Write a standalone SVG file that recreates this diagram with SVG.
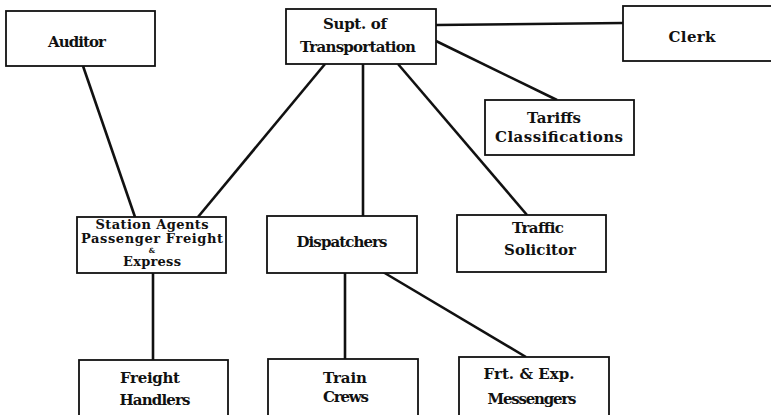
<svg xmlns="http://www.w3.org/2000/svg" width="771" height="415" viewBox="0 0 771 415">
<style>
.box{fill:#fff;stroke:#111;stroke-width:1.8}
.t{font-family:"DejaVu Serif","Liberation Serif",serif;font-weight:bold;font-size:15px;fill:#111;text-anchor:middle}
.s{font-size:13px}
.c line{stroke:#111;stroke-width:2.6}
</style>
<rect width="771" height="415" fill="#fff"/>
<g class="c" id="connectors">
<line x1="436" y1="25" x2="623" y2="23"/>
<line x1="436" y1="41" x2="557" y2="100"/>
<line x1="83" y1="66" x2="135" y2="217"/>
<line x1="325" y1="64" x2="198" y2="217"/>
<line x1="363" y1="64" x2="363" y2="216"/>
<line x1="398" y1="64" x2="527" y2="215"/>
<line x1="153" y1="273" x2="153" y2="360"/>
<line x1="345" y1="273" x2="345" y2="359"/>
<line x1="383" y1="272" x2="526" y2="357"/>
</g>
<g id="auditor"><rect class="box" x="6" y="11" width="149" height="55"/><text class="t" x="77" y="47" textLength="58">Auditor</text></g>
<g id="supt"><rect class="box" x="286" y="9" width="150" height="55"/><text class="t" x="355" y="29" textLength="64">Supt. of</text><text class="t" x="358" y="52" textLength="116">Transportation</text></g>
<g id="clerk"><rect class="box" x="623" y="6" width="160" height="55"/><text class="t" x="692" y="42" textLength="47">Clerk</text></g>
<g id="tariffs"><rect class="box" x="485" y="100" width="149" height="55"/><text class="t" x="554" y="123">Tariffs</text><text class="t" x="559" y="142" textLength="128">Classifications</text></g>
<g id="station"><rect class="box" x="77" y="217" width="149" height="56"/><text class="t s" x="152" y="229" textLength="113">Station Agents</text><text class="t s" x="152" y="243" textLength="142">Passenger Freight</text><text class="t" x="152" y="253" style="font-size:7px">&amp;</text><text class="t s" x="152" y="266" textLength="58">Express</text></g>
<g id="dispatchers"><rect class="box" x="267" y="216" width="150" height="57"/><text class="t" x="342" y="247" textLength="91">Dispatchers</text></g>
<g id="traffic"><rect class="box" x="457" y="215" width="149" height="57"/><text class="t" x="538" y="233" textLength="52">Traffic</text><text class="t" x="540" y="255">Solicitor</text></g>
<g id="freight"><rect class="box" x="79" y="360" width="149" height="60"/><text class="t" x="150" y="383" textLength="60">Freight</text><text class="t" x="155" y="405" textLength="71">Handlers</text></g>
<g id="train"><rect class="box" x="268" y="359" width="150" height="61"/><text class="t" x="345" y="383" textLength="44">Train</text><text class="t" x="346" y="402" textLength="46">Crews</text></g>
<g id="frt"><rect class="box" x="459" y="357" width="150" height="63"/><text class="t" x="529" y="379" textLength="91">Frt. &amp; Exp.</text><text class="t" x="532" y="404" textLength="89">Messengers</text></g>
</svg>
